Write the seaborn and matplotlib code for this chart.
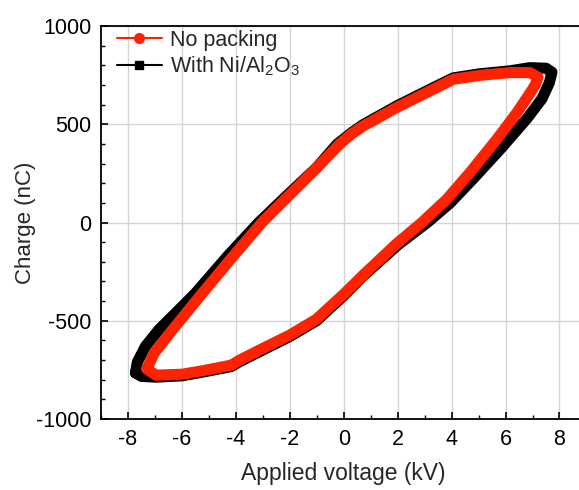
import numpy as np
import pandas as pd
import seaborn as sns
import matplotlib.pyplot as plt
from matplotlib.lines import Line2D
from matplotlib.ticker import MultipleLocator

# closed Q-V loops (kV, nC)
red_v = [-7.30, -7.03, -6.36, -5.35, -4.13, -3.00, -2.10, -1.00, -0.15, 0.30, 0.72, 1.96, 3.20,
         4.06, 5.06, 6.17, 6.90, 7.20, 7.10, 6.91, 6.42, 5.68, 4.68, 3.82, 2.90, 1.96,
         0.72, 0.00, -1.01, -2.00, -2.87, -3.87, -4.17, -5.10, -5.98, -6.96, -7.30]
red_q = [-745, -665, -548, -378, -176, 5, 128, 278, 400, 452, 491, 585, 670,
         729, 749, 763, 763, 740, 700, 659, 559, 424, 254, 118, 0, -108,
         -268, -365, -492, -573, -632, -701, -726, -751, -772, -777, -745]

black_v = [-7.72, -7.65, -7.35, -6.85, -6.30, -5.50, -4.30, -3.15, -2.20, -1.00, -0.25, 0.30,
           0.72, 1.96, 3.20, 4.06, 5.06, 6.17, 6.90, 7.50, 7.72, 7.62, 7.35, 6.80, 5.85,
           4.85, 3.95, 3.10, 2.00, 0.72, 0.00, -1.01, -2.00, -2.87, -3.87, -4.17, -5.10,
           -5.98, -6.96, -7.50, -7.72]
black_q = [-765, -710, -630, -545, -470, -360, -170, 0, 125, 280, 398, 458,
           498, 593, 678, 736, 757, 772, 788, 785, 765, 710, 630, 530, 380,
           230, 100, 0, -115, -272, -372, -500, -580, -640, -709, -733, -758,
           -780, -787, -783, -765]

sns.set_theme(style="ticks")
plt.rcParams["font.family"] = ["Liberation Sans", "DejaVu Sans"]
plt.rcParams["mathtext.fontset"] = "custom"
plt.rcParams["mathtext.rm"] = "Liberation Sans"
plt.rcParams["axes.unicode_minus"] = False

fig = plt.figure(figsize=(5.79, 4.90), dpi=100)
ax = fig.add_axes([0.1744, 0.1449, 0.8385, 0.802])

ax.grid(True, which="major", color="#d4d4d4", lw=1.0, zorder=0)

kw = dict(sort=False, estimator=None, lw=8, solid_capstyle="round",
          solid_joinstyle="round", legend=False, ax=ax)
sns.lineplot(x=black_v, y=black_q, color="black", **kw)
sns.lineplot(x=red_v, y=red_q, color="#ff2200", **kw)

ax.set_xlim(-9, 9)
ax.set_ylim(-1000, 1000)
ax.xaxis.set_major_locator(MultipleLocator(2))
ax.xaxis.set_minor_locator(MultipleLocator(1))
ax.yaxis.set_major_locator(MultipleLocator(500))
ax.yaxis.set_minor_locator(MultipleLocator(100))
ax.tick_params(which="both", direction="in", labelsize=15.5, colors="black")
ax.tick_params(which="major", length=5, width=1.2, pad=7)
ax.tick_params(which="minor", length=3, width=1.0)
ax.tick_params(axis="x", which="both", top=False)
ax.tick_params(axis="y", which="both", right=False)
for s in ["left", "bottom", "top", "right"]:
    ax.spines[s].set_color("black")
    ax.spines[s].set_linewidth(1.3)

ax.set_xlabel("Applied voltage (kV)", fontsize=16.5, labelpad=9)
ax.set_ylabel("Charge (nC)", fontsize=16, labelpad=0)

handles = [
    Line2D([], [], color="#ff2200", marker="o", ms=7, lw=1.5),
    Line2D([], [], color="black", marker="s", ms=6, lw=1.5),
]
ax.legend(handles, ["No packing", r"With Ni/Al$_\mathregular{2}$O$_\mathregular{3}$"],
          loc="upper left", frameon=False, fontsize=15.5, handlelength=2.1,
          handletextpad=0.35, labelspacing=0.15, borderaxespad=0.0,
          bbox_to_anchor=(0.015, 1.012))

fig.savefig("out.png", dpi=100, facecolor="white")
